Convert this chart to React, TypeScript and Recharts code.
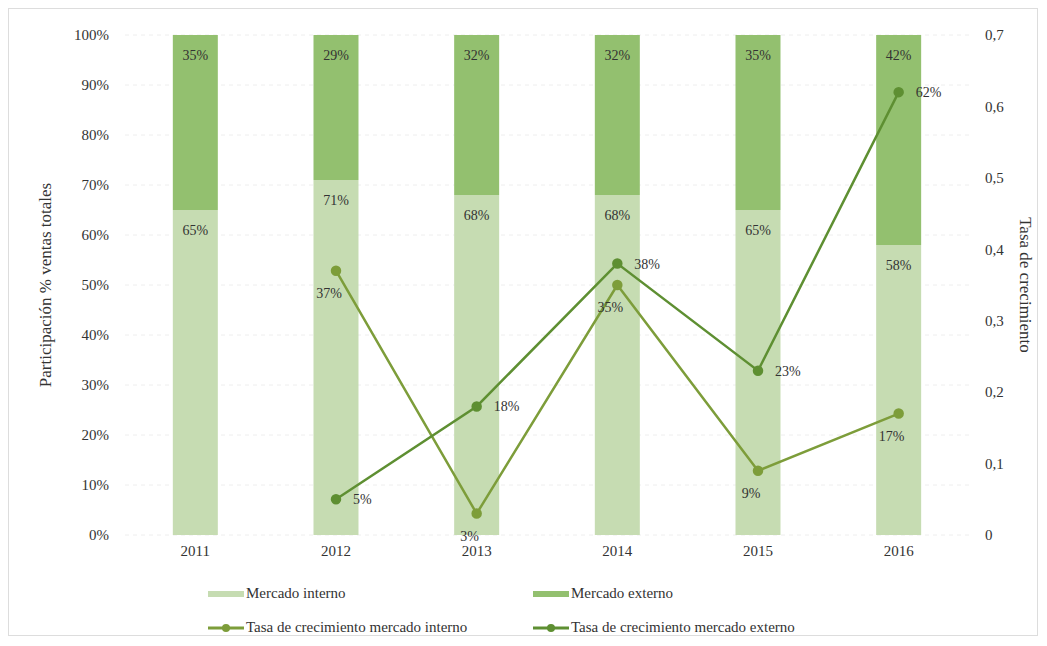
import {
  ComposedChart,
  Bar,
  Line,
  XAxis,
  YAxis,
  CartesianGrid,
  Legend,
  LabelList
} from 'recharts';

const anios = ['2011', '2012', '2013', '2014', '2015', '2016'];
const mercadoInterno = [65, 71, 68, 68, 65, 58];
const mercadoExterno = [35, 29, 32, 32, 35, 42];
const tasaInterno: (number | null)[] = [null, 0.37, 0.03, 0.35, 0.09, 0.17];
const tasaExterno: (number | null)[] = [null, 0.05, 0.18, 0.38, 0.23, 0.62];
const ticksIzq = [0, 10, 20, 30, 40, 50, 60, 70, 80, 90, 100];
const ticksDer = [0, 0.1, 0.2, 0.3, 0.4, 0.5, 0.6, 0.7];

const colorInterno = '#c6dcb2';
const colorExterno = '#93c06f';
const lineaInterno = '#7d9d3a';
const lineaExterno = '#5e8f32';
const fuente = '"Liberation Serif", "DejaVu Serif", serif';

const datos = anios.map((anio, i) => ({
  anio,
  interno: mercadoInterno[i],
  externo: mercadoExterno[i],
  tasaInt: tasaInterno[i],
  tasaExt: tasaExterno[i]
}));

const pct = (v: number) => `${Math.round(v * 100)}%`;

// etiqueta dentro de la barra, cerca del borde superior
const EtiquetaBarra = (props: any) => {
  const { x, y, width, value } = props;
  return (
    <text x={x + width / 2} y={y + 25} textAnchor="middle" fontSize={14} fill="#333" fontFamily={fuente}>
      {value}%
    </text>
  );
};

const EtiquetaInterno = (props: any) => {
  const { x, y, value } = props;
  if (value == null) return null;
  return (
    <text x={x - 7} y={y + 27} textAnchor="middle" fontSize={14} fill="#333" fontFamily={fuente}>
      {pct(value)}
    </text>
  );
};

const EtiquetaExterno = (props: any) => {
  const { x, y, value } = props;
  if (value == null) return null;
  return (
    <text x={x + 17} y={y + 5} textAnchor="start" fontSize={14} fill="#333" fontFamily={fuente}>
      {pct(value)}
    </text>
  );
};

const LeyendaMarca = ({ color }: { color: string }) => (
  <svg width={36} height={12} style={{ marginRight: 2 }}>
    <line x1={0} y1={6} x2={36} y2={6} stroke={color} strokeWidth={3} />
    <circle cx={18} cy={6} r={4} fill={color} />
  </svg>
);

const Leyenda = () => (
  <div style={{ fontFamily: fuente, fontSize: 15, color: '#333', position: 'relative', height: 70 }}>
    <div style={{ position: 'absolute', left: 199, top: 20, display: 'flex', alignItems: 'center' }}>
      <span style={{ display: 'inline-block', width: 36, height: 6, background: colorInterno, marginRight: 2 }} />
      Mercado interno
    </div>
    <div style={{ position: 'absolute', left: 524, top: 20, display: 'flex', alignItems: 'center' }}>
      <span style={{ display: 'inline-block', width: 36, height: 6, background: colorExterno, marginRight: 2 }} />
      Mercado externo
    </div>
    <div style={{ position: 'absolute', left: 199, top: 54, display: 'flex', alignItems: 'center', whiteSpace: 'nowrap' }}>
      <LeyendaMarca color={lineaInterno} />
      Tasa de crecimiento mercado interno
    </div>
    <div style={{ position: 'absolute', left: 524, top: 54, display: 'flex', alignItems: 'center', whiteSpace: 'nowrap' }}>
      <LeyendaMarca color={lineaExterno} />
      Tasa de crecimiento mercado externo
    </div>
  </div>
);

export default function App() {
  return (
    <div style={{ width: 1030, height: 628, border: '1px solid #ddd', boxSizing: 'border-box', background: '#fff' }}>
      <ComposedChart
        width={1028}
        height={626}
        data={datos}
        barCategoryGap="34%"
        margin={{ top: 26, right: 67, bottom: 0, left: 20 }}
        style={{ fontFamily: fuente }}
      >
        <CartesianGrid vertical={false} stroke="#eee" strokeDasharray="4 4" yAxisId="izq" />
        <XAxis
          dataKey="anio"
          axisLine={false}
          tickLine={false}
          tick={{ fontSize: 15, fill: '#333', fontFamily: fuente }}
          tickMargin={4}
          height={30}
        />
        <YAxis
          yAxisId="izq"
          domain={[0, 100]}
          ticks={ticksIzq}
          interval={0}
          tickFormatter={(v) => `${v}%`}
          axisLine={false}
          tickLine={false}
          tickSize={0}
          tickMargin={16}
          width={96}
          tick={{ fontSize: 15, fill: '#333', fontFamily: fuente }}
          label={{
            value: 'Participación % ventas totales',
            angle: -90,
            position: 'insideLeft',
            offset: 16,
            style: { textAnchor: 'middle', fontSize: 17, fill: '#333', fontFamily: fuente }
          }}
        />
        <YAxis
          yAxisId="der"
          orientation="right"
          domain={[0, 0.7]}
          ticks={ticksDer}
          interval={0}
          tickFormatter={(v) => String(v).replace('.', ',')}
          axisLine={false}
          tickLine={false}
          tickSize={0}
          tickMargin={16}
          width={1}
          tick={{ fontSize: 15, fill: '#333', fontFamily: fuente, textAnchor: 'start' }}
          label={{
            value: 'Tasa de crecimiento',
            angle: 90,
            position: 'right',
            offset: 56,
            style: { textAnchor: 'middle', fontSize: 17, fill: '#333', fontFamily: fuente }
          }}
        />
        <Legend verticalAlign="bottom" content={() => <Leyenda />} wrapperStyle={{ left: 0, width: 1028 }} />
        <Bar yAxisId="izq" dataKey="interno" name="Mercado interno" stackId="a" fill={colorInterno} isAnimationActive={false}>
          <LabelList dataKey="interno" content={EtiquetaBarra} />
        </Bar>
        <Bar yAxisId="izq" dataKey="externo" name="Mercado externo" stackId="a" fill={colorExterno} isAnimationActive={false}>
          <LabelList dataKey="externo" content={EtiquetaBarra} />
        </Bar>
        <Line
          yAxisId="der"
          dataKey="tasaInt"
          name="Tasa de crecimiento mercado interno"
          stroke={lineaInterno}
          strokeWidth={2.5}
          dot={{ r: 4, fill: lineaInterno, stroke: lineaInterno }}
          isAnimationActive={false}
        >
          <LabelList dataKey="tasaInt" content={EtiquetaInterno} />
        </Line>
        <Line
          yAxisId="der"
          dataKey="tasaExt"
          name="Tasa de crecimiento mercado externo"
          stroke={lineaExterno}
          strokeWidth={2.5}
          dot={{ r: 4, fill: lineaExterno, stroke: lineaExterno }}
          isAnimationActive={false}
        >
          <LabelList dataKey="tasaExt" content={EtiquetaExterno} />
        </Line>
      </ComposedChart>
    </div>
  );
}
